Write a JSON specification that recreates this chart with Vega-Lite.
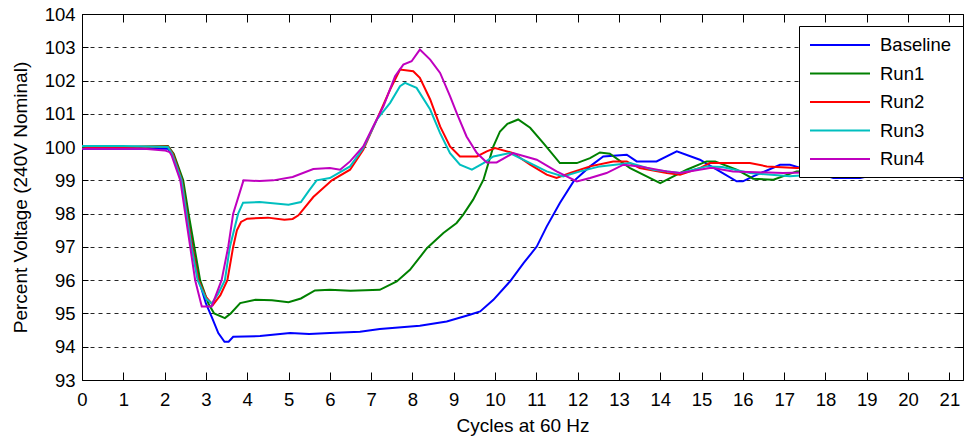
{
  "$schema": "https://vega.github.io/schema/vega-lite/v6.json",
  "width": 881,
  "height": 366,
  "autosize": "none",
  "padding": {"left": 82, "top": 14, "right": 1, "bottom": 57},
  "background": "white",
  "config": {
    "view": {"stroke": "black", "strokeWidth": 1},
    "font": "Liberation Sans",
    "axis": {"labelFont": "Liberation Sans", "titleFont": "Liberation Sans", "labelColor": "black", "titleColor": "black", "labelFontSize": 18.5, "titleFontSize": 19, "titleFontWeight": "normal", "domainColor": "black", "tickColor": "black"}
  },
  "datasets": {
    "d": [
      {"s":"Baseline","x":0,"v":99.95},{"s":"Baseline","x":1,"v":99.95},{"s":"Baseline","x":2.08,"v":99.95},{"s":"Baseline","x":2.2,"v":99.75},{"s":"Baseline","x":2.3,"v":99.45},{"s":"Baseline","x":2.43,"v":99.0},{"s":"Baseline","x":2.55,"v":98.0},{"s":"Baseline","x":2.68,"v":97.0},{"s":"Baseline","x":2.83,"v":96.0},{"s":"Baseline","x":3.0,"v":95.3},{"s":"Baseline","x":3.14,"v":94.9},{"s":"Baseline","x":3.3,"v":94.41},{"s":"Baseline","x":3.45,"v":94.15},{"s":"Baseline","x":3.55,"v":94.15},{"s":"Baseline","x":3.66,"v":94.3},{"s":"Baseline","x":4.31,"v":94.32},{"s":"Baseline","x":5.04,"v":94.41},{"s":"Baseline","x":5.5,"v":94.38},{"s":"Baseline","x":6.0,"v":94.41},{"s":"Baseline","x":6.73,"v":94.45},{"s":"Baseline","x":7.21,"v":94.53},{"s":"Baseline","x":8.18,"v":94.63},{"s":"Baseline","x":8.83,"v":94.76},{"s":"Baseline","x":9.39,"v":94.96},{"s":"Baseline","x":9.64,"v":95.06},{"s":"Baseline","x":9.96,"v":95.41},{"s":"Baseline","x":10.36,"v":95.96},{"s":"Baseline","x":10.69,"v":96.51},{"s":"Baseline","x":11.01,"v":97.01},{"s":"Baseline","x":11.25,"v":97.61},{"s":"Baseline","x":11.57,"v":98.32},{"s":"Baseline","x":11.9,"v":98.97},{"s":"Baseline","x":12.3,"v":99.42},{"s":"Baseline","x":12.62,"v":99.72},{"s":"Baseline","x":13.19,"v":99.77},{"s":"Baseline","x":13.43,"v":99.57},{"s":"Baseline","x":13.91,"v":99.57},{"s":"Baseline","x":14.4,"v":99.87},{"s":"Baseline","x":14.96,"v":99.62},{"s":"Baseline","x":15.4,"v":99.3},{"s":"Baseline","x":15.85,"v":98.97},{"s":"Baseline","x":16.0,"v":98.97},{"s":"Baseline","x":16.25,"v":99.12},{"s":"Baseline","x":16.9,"v":99.47},{"s":"Baseline","x":17.14,"v":99.47},{"s":"Baseline","x":17.6,"v":99.3},{"s":"Baseline","x":18.19,"v":99.07},{"s":"Baseline","x":18.84,"v":99.07},{"s":"Baseline","x":19.3,"v":99.2},{"s":"Baseline","x":20.0,"v":99.3},{"s":"Baseline","x":20.7,"v":99.25},{"s":"Baseline","x":21.33,"v":99.08},
      {"s":"Run1","x":0,"v":100.0},{"s":"Run1","x":1,"v":100.0},{"s":"Run1","x":2.08,"v":100.03},{"s":"Run1","x":2.22,"v":99.8},{"s":"Run1","x":2.45,"v":99.0},{"s":"Run1","x":2.58,"v":98.0},{"s":"Run1","x":2.72,"v":97.0},{"s":"Run1","x":2.86,"v":96.0},{"s":"Run1","x":3.06,"v":95.3},{"s":"Run1","x":3.2,"v":95.0},{"s":"Run1","x":3.46,"v":94.86},{"s":"Run1","x":3.6,"v":95.0},{"s":"Run1","x":3.83,"v":95.31},{"s":"Run1","x":4.2,"v":95.41},{"s":"Run1","x":4.6,"v":95.4},{"s":"Run1","x":5.0,"v":95.34},{"s":"Run1","x":5.3,"v":95.45},{"s":"Run1","x":5.64,"v":95.69},{"s":"Run1","x":6.0,"v":95.71},{"s":"Run1","x":6.5,"v":95.68},{"s":"Run1","x":7.21,"v":95.71},{"s":"Run1","x":7.62,"v":95.96},{"s":"Run1","x":7.94,"v":96.31},{"s":"Run1","x":8.35,"v":96.96},{"s":"Run1","x":8.75,"v":97.42},{"s":"Run1","x":9.07,"v":97.72},{"s":"Run1","x":9.23,"v":97.97},{"s":"Run1","x":9.47,"v":98.42},{"s":"Run1","x":9.72,"v":99.02},{"s":"Run1","x":9.96,"v":100.02},{"s":"Run1","x":10.12,"v":100.47},{"s":"Run1","x":10.3,"v":100.7},{"s":"Run1","x":10.56,"v":100.83},{"s":"Run1","x":10.85,"v":100.58},{"s":"Run1","x":11.17,"v":100.12},{"s":"Run1","x":11.57,"v":99.52},{"s":"Run1","x":11.98,"v":99.52},{"s":"Run1","x":12.3,"v":99.67},{"s":"Run1","x":12.54,"v":99.84},{"s":"Run1","x":12.78,"v":99.8},{"s":"Run1","x":13.27,"v":99.37},{"s":"Run1","x":14.0,"v":98.92},{"s":"Run1","x":14.64,"v":99.32},{"s":"Run1","x":15.12,"v":99.57},{"s":"Run1","x":15.33,"v":99.57},{"s":"Run1","x":15.85,"v":99.32},{"s":"Run1","x":16.25,"v":99.05},{"s":"Run1","x":16.74,"v":99.02},{"s":"Run1","x":17.3,"v":99.27},{"s":"Run1","x":18,"v":99.3},{"s":"Run1","x":19,"v":99.3},{"s":"Run1","x":20,"v":99.3},{"s":"Run1","x":21.33,"v":99.3},
      {"s":"Run2","x":0,"v":100.05},{"s":"Run2","x":0.1,"v":100.0},{"s":"Run2","x":1,"v":100.0},{"s":"Run2","x":2.08,"v":100.02},{"s":"Run2","x":2.2,"v":99.8},{"s":"Run2","x":2.42,"v":99.0},{"s":"Run2","x":2.54,"v":98.0},{"s":"Run2","x":2.67,"v":97.0},{"s":"Run2","x":2.82,"v":96.0},{"s":"Run2","x":3.0,"v":95.5},{"s":"Run2","x":3.17,"v":95.26},{"s":"Run2","x":3.35,"v":95.55},{"s":"Run2","x":3.52,"v":96.0},{"s":"Run2","x":3.66,"v":97.0},{"s":"Run2","x":3.75,"v":97.5},{"s":"Run2","x":3.85,"v":97.75},{"s":"Run2","x":4.0,"v":97.85},{"s":"Run2","x":4.5,"v":97.88},{"s":"Run2","x":4.9,"v":97.82},{"s":"Run2","x":5.1,"v":97.84},{"s":"Run2","x":5.24,"v":97.95},{"s":"Run2","x":5.6,"v":98.5},{"s":"Run2","x":6.05,"v":99.0},{"s":"Run2","x":6.49,"v":99.32},{"s":"Run2","x":6.81,"v":99.92},{"s":"Run2","x":7.21,"v":101.03},{"s":"Run2","x":7.46,"v":101.73},{"s":"Run2","x":7.7,"v":102.33},{"s":"Run2","x":8.02,"v":102.28},{"s":"Run2","x":8.18,"v":102.08},{"s":"Run2","x":8.43,"v":101.43},{"s":"Run2","x":8.67,"v":100.62},{"s":"Run2","x":8.91,"v":100.02},{"s":"Run2","x":9.15,"v":99.72},{"s":"Run2","x":9.56,"v":99.72},{"s":"Run2","x":9.8,"v":99.87},{"s":"Run2","x":10.0,"v":99.97},{"s":"Run2","x":10.44,"v":99.82},{"s":"Run2","x":10.85,"v":99.47},{"s":"Run2","x":11.25,"v":99.17},{"s":"Run2","x":11.49,"v":99.07},{"s":"Run2","x":11.82,"v":99.22},{"s":"Run2","x":12.3,"v":99.42},{"s":"Run2","x":12.86,"v":99.57},{"s":"Run2","x":13.19,"v":99.57},{"s":"Run2","x":13.5,"v":99.37},{"s":"Run2","x":14.16,"v":99.22},{"s":"Run2","x":14.48,"v":99.17},{"s":"Run2","x":14.96,"v":99.37},{"s":"Run2","x":15.2,"v":99.52},{"s":"Run2","x":16.17,"v":99.52},{"s":"Run2","x":16.58,"v":99.42},{"s":"Run2","x":17.3,"v":99.37},{"s":"Run2","x":18,"v":99.4},{"s":"Run2","x":19,"v":99.45},{"s":"Run2","x":20,"v":99.4},{"s":"Run2","x":21.33,"v":99.35},
      {"s":"Run3","x":0,"v":100.03},{"s":"Run3","x":1,"v":100.03},{"s":"Run3","x":2.08,"v":100.0},{"s":"Run3","x":2.18,"v":99.8},{"s":"Run3","x":2.41,"v":99.0},{"s":"Run3","x":2.53,"v":98.0},{"s":"Run3","x":2.65,"v":97.0},{"s":"Run3","x":2.8,"v":96.0},{"s":"Run3","x":3.0,"v":95.45},{"s":"Run3","x":3.14,"v":95.3},{"s":"Run3","x":3.3,"v":95.6},{"s":"Run3","x":3.46,"v":96.0},{"s":"Run3","x":3.58,"v":97.0},{"s":"Run3","x":3.78,"v":98.0},{"s":"Run3","x":3.9,"v":98.33},{"s":"Run3","x":4.3,"v":98.35},{"s":"Run3","x":5.0,"v":98.27},{"s":"Run3","x":5.3,"v":98.35},{"s":"Run3","x":5.5,"v":98.7},{"s":"Run3","x":5.68,"v":99.0},{"s":"Run3","x":6.0,"v":99.07},{"s":"Run3","x":6.49,"v":99.42},{"s":"Run3","x":6.81,"v":99.97},{"s":"Run3","x":7.14,"v":100.83},{"s":"Run3","x":7.46,"v":101.33},{"s":"Run3","x":7.7,"v":101.83},{"s":"Run3","x":7.82,"v":101.93},{"s":"Run3","x":8.1,"v":101.78},{"s":"Run3","x":8.43,"v":101.13},{"s":"Run3","x":8.67,"v":100.42},{"s":"Run3","x":8.91,"v":99.82},{"s":"Run3","x":9.15,"v":99.47},{"s":"Run3","x":9.44,"v":99.32},{"s":"Run3","x":9.72,"v":99.52},{"s":"Run3","x":9.96,"v":99.72},{"s":"Run3","x":10.36,"v":99.82},{"s":"Run3","x":10.85,"v":99.52},{"s":"Run3","x":11.25,"v":99.27},{"s":"Run3","x":11.65,"v":99.12},{"s":"Run3","x":12.06,"v":99.27},{"s":"Run3","x":12.54,"v":99.42},{"s":"Run3","x":13.27,"v":99.52},{"s":"Run3","x":13.83,"v":99.32},{"s":"Run3","x":14.48,"v":99.22},{"s":"Run3","x":15.12,"v":99.42},{"s":"Run3","x":15.5,"v":99.4},{"s":"Run3","x":16.17,"v":99.22},{"s":"Run3","x":17.14,"v":99.12},{"s":"Run3","x":18,"v":99.2},{"s":"Run3","x":19,"v":99.25},{"s":"Run3","x":20,"v":99.25},{"s":"Run3","x":21.33,"v":99.2},
      {"s":"Run4","x":0,"v":99.95},{"s":"Run4","x":1.5,"v":99.95},{"s":"Run4","x":2.0,"v":99.9},{"s":"Run4","x":2.12,"v":99.85},{"s":"Run4","x":2.17,"v":99.75},{"s":"Run4","x":2.38,"v":99.0},{"s":"Run4","x":2.5,"v":98.0},{"s":"Run4","x":2.62,"v":97.0},{"s":"Run4","x":2.74,"v":96.0},{"s":"Run4","x":2.9,"v":95.21},{"s":"Run4","x":3.14,"v":95.21},{"s":"Run4","x":3.38,"v":96.0},{"s":"Run4","x":3.54,"v":97.0},{"s":"Run4","x":3.66,"v":98.0},{"s":"Run4","x":3.91,"v":99.0},{"s":"Run4","x":4.3,"v":98.98},{"s":"Run4","x":4.63,"v":99.0},{"s":"Run4","x":5.1,"v":99.1},{"s":"Run4","x":5.6,"v":99.34},{"s":"Run4","x":6.0,"v":99.37},{"s":"Run4","x":6.25,"v":99.32},{"s":"Run4","x":6.49,"v":99.57},{"s":"Run4","x":6.81,"v":100.02},{"s":"Run4","x":7.05,"v":100.62},{"s":"Run4","x":7.3,"v":101.23},{"s":"Run4","x":7.58,"v":102.13},{"s":"Run4","x":7.78,"v":102.48},{"s":"Run4","x":7.98,"v":102.58},{"s":"Run4","x":8.18,"v":102.93},{"s":"Run4","x":8.43,"v":102.63},{"s":"Run4","x":8.67,"v":102.23},{"s":"Run4","x":8.91,"v":101.53},{"s":"Run4","x":9.07,"v":101.03},{"s":"Run4","x":9.31,"v":100.32},{"s":"Run4","x":9.56,"v":99.82},{"s":"Run4","x":9.8,"v":99.54},{"s":"Run4","x":10.04,"v":99.54},{"s":"Run4","x":10.44,"v":99.82},{"s":"Run4","x":11.01,"v":99.62},{"s":"Run4","x":11.49,"v":99.27},{"s":"Run4","x":11.98,"v":98.97},{"s":"Run4","x":12.3,"v":99.07},{"s":"Run4","x":12.7,"v":99.22},{"s":"Run4","x":13.11,"v":99.47},{"s":"Run4","x":13.5,"v":99.42},{"s":"Run4","x":14.16,"v":99.27},{"s":"Run4","x":14.48,"v":99.22},{"s":"Run4","x":15.2,"v":99.37},{"s":"Run4","x":15.28,"v":99.37},{"s":"Run4","x":15.76,"v":99.27},{"s":"Run4","x":16.97,"v":99.22},{"s":"Run4","x":18,"v":99.25},{"s":"Run4","x":19,"v":99.3},{"s":"Run4","x":20,"v":99.25},{"s":"Run4","x":21.33,"v":99.2}
    ]
  },
  "data": {"name": "d"},
  "layer": [
    {
      "mark": {"type": "line", "strokeWidth": 2, "clip": true},
      "encoding": {
        "x": {"field": "x", "type": "quantitative", "scale": {"domain": [0, 21.33], "nice": false, "zero": false},
              "axis": {"orient": "bottom", "title": "Cycles at 60 Hz", "values": [0,1,2,3,4,5,6,7,8,9,10,11,12,13,14,15,16,17,18,19,20,21], "grid": false, "tickSize": -8, "labelPadding": 18, "domain": false, "titlePadding": 8, "labelFlush": false}},
        "y": {"field": "v", "type": "quantitative", "scale": {"domain": [93, 104], "nice": false, "zero": false},
              "axis": {"orient": "left", "title": "Percent Voltage (240V Nominal)", "values": [93,94,95,96,97,98,99,100,101,102,103,104], "grid": true, "gridDash": [4, 4], "gridColor": "black", "gridOpacity": 0.85, "tickSize": -6, "labelPadding": 13, "domain": false, "titlePadding": 14, "labelFlush": false}},
        "color": {"field": "s", "type": "nominal",
                  "scale": {"domain": ["Baseline", "Run1", "Run2", "Run3", "Run4"], "range": ["#0000FF", "#008000", "#FF0000", "#00BFBF", "#BF00BF"]},
                  "legend": {"title": "\u00a0", "titleOrient": "right", "titlePadding": 4, "titleFontSize": 18.5, "orient": "none", "legendX": 717, "legendY": 12, "fillColor": "white", "strokeColor": "black", "padding": 8, "symbolType": "M-0.8,0H5.2", "symbolSize": 400, "symbolStrokeWidth": 2, "labelFontSize": 18.5, "labelFont": "Liberation Sans", "labelColor": "black", "rowPadding": 7.5, "labelOffset": 51, "cornerRadius": 0}}
      }
    },
    {
      "mark": {"type": "line", "strokeOpacity": 0},
      "encoding": {
        "x": {"field": "x", "type": "quantitative", "axis": {"orient": "top", "title": null, "labels": false, "values": [0,1,2,3,4,5,6,7,8,9,10,11,12,13,14,15,16,17,18,19,20,21], "tickSize": -8, "domain": false, "grid": false}},
        "y": {"field": "v", "type": "quantitative", "axis": {"orient": "right", "title": null, "labels": false, "values": [93,94,95,96,97,98,99,100,101,102,103,104], "tickSize": -6, "domain": false, "grid": false}},
        "detail": {"field": "s"}
      }
    }
  ],
  "resolve": {"axis": {"x": "independent", "y": "independent"}}
}
